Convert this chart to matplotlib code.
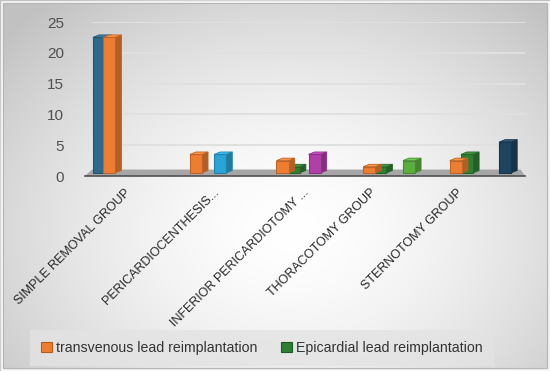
import numpy as np
import matplotlib
matplotlib.use("Agg")
import matplotlib.pyplot as plt
from matplotlib.patches import Polygon, Rectangle, Patch
import matplotlib.colors as mcolors

# ---------------- data ----------------
categories = ["SIMPLE REMOVAL GROUP", "PERICARDIOCENTHESIS...",
              "INFERIOR PERICARDIOTOMY ...", "THORACOTOMY GROUP", "STERNOTOMY GROUP"]
transvenous = [22, 3, 2, 1, 2]
epicardial = [0, 0, 1, 1, 3]
other = [22, 3, 3, 2, 5]           # unlabelled extra bars
yticks = [0, 5, 10, 15, 20, 25]
legend_labels = ["transvenous lead reimplantation", "Epicardial lead reimplantation"]

# ---------------- styling / layout ----------------
c_orange = "#ED7D31"
c_green = "#2F7F33"
other_colors = ["#2B6A8C", "#2AA3D6", "#B03FA8", "#5AAE3E", "#1E4460"]
off_tv = -0.30
off_ep = -0.17
off_other = [-0.42, -0.02, 0.07, 0.16, 0.27]
label_off = [-0.12, -0.10, -0.07, -0.29, -0.29]
bw = 0.14
FONT = "Liberation Sans"
SHIFT = 0.5   # 3D projection lift of the bar base above the floor front edge

W, H = 550, 371
fig = plt.figure(figsize=(W / 100, H / 100), dpi=100)

# background radial gradient
bg = fig.add_axes([0, 0, 1, 1], zorder=-10)
yy, xx = np.mgrid[0:H, 0:W]
cx, cy = 290, 230
r = np.sqrt(((xx - cx) / 360.0) ** 2 + ((yy - cy) / 280.0) ** 2)
val = np.clip(1.0 - 0.22 * np.clip(r, 0, 1.3) ** 1.6, 0.76, 1.0)
bg.imshow(np.dstack([val, val, val]), extent=[0, W, H, 0], aspect="auto")
bg.set_xlim(0, W); bg.set_ylim(H, 0)
bg.axis("off")
bg.add_patch(Rectangle((1.5, 1.5), W - 3, H - 3, fill=False, ec="#F4F4F4", lw=2))
bg.add_patch(Rectangle((3, 3), W - 6, H - 6, fill=False, ec="#B5B5B5", lw=0.8))

ax = fig.add_axes([92 / W, (H - 176) / H, (525 - 92) / W, (176 - 22) / H])
ax.patch.set_alpha(0)
ax.set_xlim(-0.5, len(categories) - 0.5)
ax.set_ylim(0, 25)
for s in ax.spines.values():
    s.set_visible(False)

for t in yticks[1:]:
    ax.axhline(t, color="#E0E0E0", lw=1.4, zorder=0)

# floor
floor = Polygon([[-0.58, 0], [len(categories) - 0.5, 0], [len(categories) - 0.55, 1.05], [-0.5, 1.05]],
                closed=True, fc="#A6A6A6", ec="none", zorder=1, clip_on=False)
ax.add_patch(floor)
ax.plot([-0.58, len(categories) - 0.5], [0, 0], color="#505050", lw=1.2, zorder=2, clip_on=False)

dx, dy = 0.07, 0.4

def bar3d(x, h, color, z):
    if h <= 0:
        return
    base = SHIFT
    top = h + SHIFT
    rgb = np.array(mcolors.to_rgb(color))
    dark = rgb * 0.75
    light = np.clip(rgb * 1.1 + 0.05, 0, 1)
    edge = rgb * 0.8
    x0, x1 = x - bw / 2, x + bw / 2
    ax.add_patch(Polygon([[x1, base], [x1 + dx, base + dy], [x1 + dx, top + dy], [x1, top]],
                         fc=dark, ec=edge, lw=0.6, zorder=z))
    ax.add_patch(Polygon([[x0, top], [x1, top], [x1 + dx, top + dy], [x0 + dx, top + dy]],
                         fc=light, ec=edge, lw=0.6, zorder=z))
    ax.bar(x, h, bottom=base, width=bw, color=color, edgecolor=edge, lw=0.8, zorder=z)

xs = np.arange(len(categories))
for i in xs:
    bar3d(i + off_other[i], other[i], other_colors[i], 3)
    bar3d(i + off_ep, epicardial[i], c_green, 4)
    bar3d(i + off_tv, transvenous[i], c_orange, 5)

ax.set_yticks(yticks)
ax.set_yticklabels([str(t) for t in yticks], fontsize=11, color="#505050", family=FONT)
ax.tick_params(axis="y", length=0, pad=20)
ax.set_xticks([])

trans = ax.get_xaxis_transform()
for i, lab in enumerate(categories):
    ax.text(i + label_off[i], -0.07, lab, transform=trans, rotation=45, ha="right", va="top",
            rotation_mode="anchor", fontsize=9, color="#262626", family=FONT)

handles = [Patch(fc=c_orange, ec="#B85A1E", lw=0.8), Patch(fc=c_green, ec="#1F5A22", lw=0.8)]
leg = fig.legend(handles, legend_labels, loc="center", bbox_to_anchor=(262 / W, (H - 348) / H),
                 ncol=2, frameon=True, handlelength=0.75, handleheight=0.75,
                 handletextpad=0.3, columnspacing=1.7, borderpad=0.5,
                 prop={"family": FONT, "size": 10.2})
leg.get_frame().set_facecolor("#E3E3E3")
leg.get_frame().set_edgecolor("none")
leg.get_frame().set_boxstyle("square")
for t in leg.get_texts():
    t.set_color("#333333")

fig.savefig("out.png", dpi=100)
